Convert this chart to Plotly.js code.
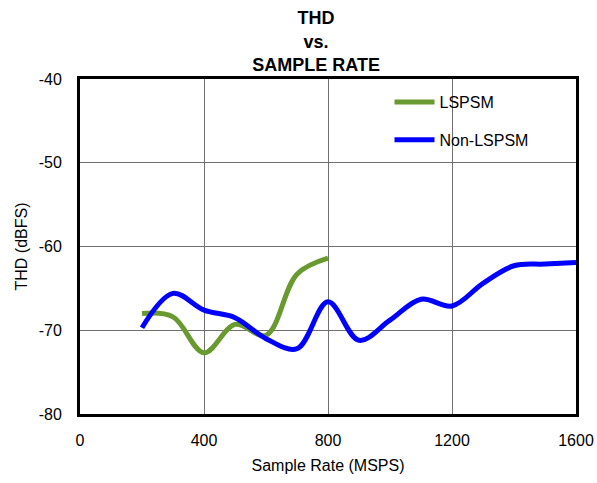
<!DOCTYPE html>
<html><head><meta charset="utf-8">
<script src="https://cdn.plot.ly/plotly-3.0.1.min.js"></script>
<style>html,body{margin:0;padding:0;background:#fff}#c{width:597px;height:483px}</style>
</head><body><div id="c"></div>
<script>
var lspsmRate = [200, 300, 400, 500, 600, 700, 800];
var lspsmThd  = [-68.0, -68.4, -72.7, -69.3, -70.6, -63.3, -61.4];
var nonRate = [200, 300, 400, 500, 600, 700, 800, 900, 1000, 1100, 1200, 1300, 1400, 1500, 1600];
var nonThd  = [-69.7, -65.6, -67.6, -68.5, -71.0, -72.2, -66.6, -71.2, -68.8, -66.3, -67.1, -64.4, -62.3, -62.1, -61.9];
var xTicks = [0, 400, 800, 1200, 1600];
var yTicks = [-80, -70, -60, -50, -40];

var font = "Liberation Sans, Arial, sans-serif";
var traces = [
  {x: lspsmRate, y: lspsmThd, name: 'LSPSM', legendgroup: 'a', mode: 'lines',
   line: {color: '#689a30', width: 5, shape: 'spline', smoothing: 1}},
  {x: nonRate, y: nonThd, name: 'Non-LSPSM', legendgroup: 'b', mode: 'lines',
   line: {color: '#0000ff', width: 5, shape: 'spline', smoothing: 1}}
];
var layout = {
  width: 597, height: 483,
  margin: {l: 80, r: 21, t: 79, b: 69},
  paper_bgcolor: '#fff', plot_bgcolor: '#fff',
  font: {family: font, size: 16, color: '#000'},
  title: {text: '<b>THD</b><br><b>vs.</b><br><b>SAMPLE RATE</b>', font: {family: font, size: 18, color: '#000'},
          x: 0.476, xref: 'paper', xanchor: 'center', yref: 'container', y: 0.95, yanchor: 'top'},
  xaxis: {range: [0, 1600], tickvals: xTicks, ticktext: xTicks.map(String), showgrid: true,
          gridcolor: '#707070', gridwidth: 1, showline: true, linecolor: '#000', linewidth: 3, mirror: true,
          zeroline: false, ticks: '', tickfont: {size: 16}, ticklabelstandoff: 10,
          title: {text: 'Sample Rate (MSPS)', font: {size: 16}, standoff: 12}},
  yaxis: {range: [-80, -40], tickvals: yTicks, ticktext: yTicks.map(String), showgrid: true,
          gridcolor: '#707070', gridwidth: 1, showline: true, linecolor: '#000', linewidth: 3, mirror: true,
          zeroline: false, ticks: '', tickfont: {size: 16}, ticklabelstandoff: 12,
          title: {text: 'THD (dBFS)', font: {size: 16}, standoff: 8}},
  showlegend: true,
  legend: {x: 0.624, y: 0.982, xanchor: 'left', yanchor: 'top', bgcolor: 'rgba(0,0,0,0)',
           font: {size: 16}, tracegroupgap: 14, itemwidth: 40}
};
Plotly.newPlot('c', traces, layout, {displayModeBar: false, staticPlot: true});
</script></body></html>
